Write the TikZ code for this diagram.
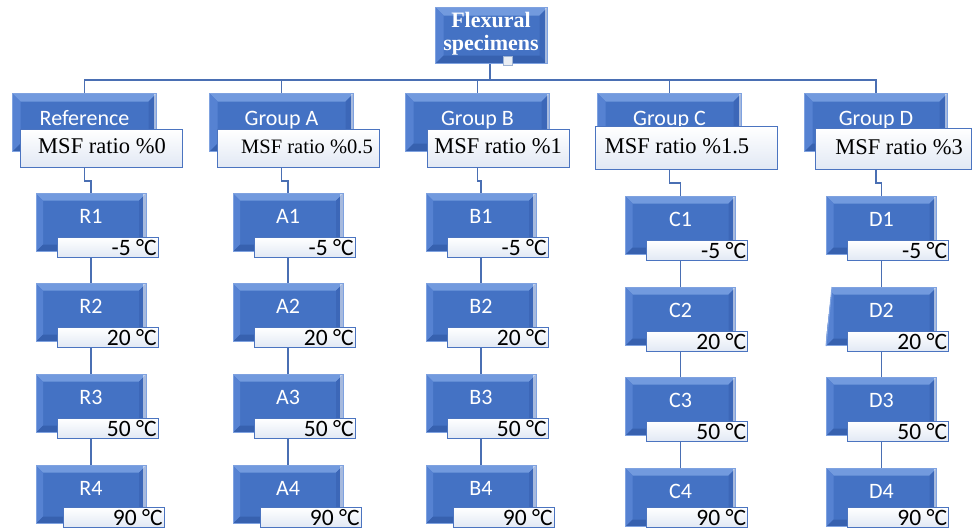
\documentclass[tikz,border=0pt]{standalone}
\usepackage{fontspec}
\setmainfont{Carlito}
\newfontfamily\serifface{Liberation Serif}
\usetikzlibrary{calc}

\definecolor{boxface}{HTML}{4472C4}
\definecolor{bevtop}{HTML}{729ADE}
\definecolor{bevleft}{HTML}{5682D2}
\definecolor{bevright}{HTML}{3C67B8}
\definecolor{bevbottom}{HTML}{3761AF}
\definecolor{boxrim}{HTML}{7FA2E0}
\definecolor{tagrim}{HTML}{4B74C0}
\definecolor{tagbottom}{HTML}{E1E8F4}
\definecolor{linkblue}{HTML}{4A6FB3}
\definecolor{gripfill}{HTML}{E9EDF3}
\definecolor{gripedge}{HTML}{9FB3D3}

\pgfdeclarelayer{links}
\pgfsetlayers{links,main}

\tikzset{
  bevelbox/.style={fill=boxface, draw=boxrim, line width=1pt, inner sep=0pt,
    path picture={
      \fill[bevtop] (path picture bounding box.north west) -- (path picture bounding box.north east)
        -- ([xshift=-#1,yshift=-#1]path picture bounding box.north east)
        -- ([xshift=#1,yshift=-#1]path picture bounding box.north west) -- cycle;
      \fill[bevleft] (path picture bounding box.north west)
        -- ([xshift=#1,yshift=-#1]path picture bounding box.north west)
        -- ([xshift=#1,yshift=#1]path picture bounding box.south west)
        -- (path picture bounding box.south west) -- cycle;
      \fill[bevright] (path picture bounding box.north east)
        -- ([xshift=-#1,yshift=-#1]path picture bounding box.north east)
        -- ([xshift=-#1,yshift=#1]path picture bounding box.south east)
        -- (path picture bounding box.south east) -- cycle;
      \fill[bevbottom] (path picture bounding box.south west)
        -- ([xshift=#1,yshift=#1]path picture bounding box.south west)
        -- ([xshift=-#1,yshift=#1]path picture bounding box.south east)
        -- (path picture bounding box.south east) -- cycle;
      \fill[white, opacity=0.55] ([xshift=-3pt]path picture bounding box.north east)
        rectangle (path picture bounding box.south east);
    }},
  bevelbox/.default=8pt,
  tagbox/.style={draw=tagrim, line width=1.3pt, top color=white, bottom color=tagbottom, inner sep=0pt},
  wtext/.style={text=white, font=\fontsize{22}{24}\selectfont, inner sep=0pt},
  ttext/.style={text=black, font=\fontsize{23.5}{25}\selectfont, inner sep=0pt},
  rtext/.style={text=black, font=\serifface\fontsize{22.5}{24}\selectfont, inner sep=0pt},
  link/.style={draw=linkblue, line width=1.8pt},
}

% one specimen box: name, title, centre x, top y, temperature, tag x offset, tag y offset
\newcommand\specimen[7]{%
  \node[bevelbox=7pt, minimum width=110pt, minimum height=58pt, anchor=north] (#1) at (#3,#4) {};
  \node[wtext, anchor=base] (#1name) at ([yshift=-30pt]#1.north) {#2};
  \node[tagbox, minimum width=101pt, minimum height=20pt, anchor=north west] (#1tag)
    at ([xshift=#6, yshift=-#7]#1.north west) {};
  \node[ttext, anchor=base east] (#1temp) at ([xshift=-2pt, yshift=3pt]#1tag.south east) {#5};
}

\begin{document}
\begin{tikzpicture}[x=1pt, y=-1pt]
\useasboundingbox (0,0) rectangle (973,530);

% root
\node[bevelbox, minimum width=112pt, minimum height=56pt, anchor=north west] (fs) at (435,7) {};
\node[wtext, font=\serifface\bfseries\fontsize{22}{23}\selectfont, align=center] (fstext) at (491,34) {Flexural\\specimens};
\node[draw=gripedge, fill=gripfill, line width=0.8pt, minimum size=9pt, inner sep=0pt] (fsgrip) at (507.5,61) {};

% groups
\node[bevelbox, minimum width=144pt, minimum height=58pt, anchor=north west] (ref) at (12,93) {};
\node[wtext, anchor=base] (refname) at ([yshift=-32pt]ref.north) {Reference};
\node[tagbox, minimum width=162pt, minimum height=38pt, anchor=north west] (reftag) at (20,129) {};
\node[rtext, anchor=base] (refratio) at (102,153) {MSF ratio \%0};

\node[bevelbox, minimum width=144pt, minimum height=58pt, anchor=north west] (ga) at (209,93) {};
\node[wtext, anchor=base] (ganame) at ([yshift=-32pt]ga.north) {Group A};
\node[tagbox, minimum width=162pt, minimum height=38pt, anchor=north west] (gatag) at (217,129) {};
\node[rtext, font=\serifface\fontsize{20.5}{22}\selectfont, anchor=base] (garatio) at (307,153) {MSF ratio \%0.5};

\node[bevelbox, minimum width=144pt, minimum height=58pt, anchor=north west] (gb) at (405,93) {};
\node[wtext, anchor=base] (gbname) at ([yshift=-32pt]gb.north) {Group B};
\node[tagbox, minimum width=142pt, minimum height=38pt, anchor=north west] (gbtag) at (427,129) {};
\node[rtext, anchor=base] (gbratio) at (498,153) {MSF ratio \%1};

\node[bevelbox, minimum width=144pt, minimum height=58pt, anchor=north west] (gc) at (597,93) {};
\node[wtext, anchor=base] (gcname) at ([yshift=-32pt]gc.north) {Group C};
\node[tagbox, minimum width=182pt, minimum height=43pt, anchor=north west] (gctag) at (595,126) {};
\node[rtext, anchor=base] (gcratio) at (677,153) {MSF ratio \%1.5};

\node[bevelbox, minimum width=143pt, minimum height=58pt, anchor=north west] (gd) at (804,93) {};
\node[wtext, anchor=base] (gdname) at ([yshift=-32pt]gd.north) {Group D};
\node[tagbox, minimum width=156pt, minimum height=41pt, anchor=north west] (gdtag) at (815,128) {};
\node[rtext, anchor=base] (gdratio) at (899,154) {MSF ratio \%3};

% specimens
\specimen{r1}{R1}{91}{193}{-5 °C}{21pt}{44pt}
\specimen{r2}{R2}{91}{283}{20 °C}{21pt}{44pt}
\specimen{r3}{R3}{91}{374}{50 °C}{21pt}{44pt}
\specimen{r4}{R4}{91}{465}{90 °C}{27pt}{42pt}

\specimen{a1}{A1}{288}{193}{-5 °C}{21pt}{44pt}
\specimen{a2}{A2}{288}{283}{20 °C}{21pt}{44pt}
\specimen{a3}{A3}{288}{374}{50 °C}{21pt}{44pt}
\specimen{a4}{A4}{288}{465}{90 °C}{27pt}{42pt}

\specimen{b1}{B1}{481}{193}{-5 °C}{21pt}{44pt}
\specimen{b2}{B2}{481}{283}{20 °C}{21pt}{44pt}
\specimen{b3}{B3}{481}{374}{50 °C}{21pt}{44pt}
\specimen{b4}{B4}{481}{465}{90 °C}{27pt}{42pt}

\specimen{c1}{C1}{680.5}{196}{-5 °C}{21pt}{44pt}
\specimen{c2}{C2}{680.5}{287}{20 °C}{21pt}{44pt}
\specimen{c3}{C3}{680.5}{377}{50 °C}{21pt}{44pt}
\specimen{c4}{C4}{680.5}{468}{90 °C}{21pt}{39pt}

\specimen{d1}{D1}{881.5}{196}{-5 °C}{21pt}{44pt}
\specimen{d2}{D2}{881.5}{287}{20 °C}{21pt}{44pt}
\specimen{d3}{D3}{881.5}{377}{50 °C}{21pt}{44pt}
\specimen{d4}{D4}{881.5}{468}{90 °C}{21pt}{39pt}

% D2 has a slanted left side
\fill[white] ([xshift=-1pt,yshift=1pt]d2.north west) -- ([xshift=6pt,yshift=1pt]d2.north west) -- ([xshift=-1pt]d2.south west) -- cycle;
\draw[boxrim, line width=1pt] ([xshift=6pt]d2.north west) -- (d2.south west);

% connectors
\begin{pgfonlayer}{links}
  \coordinate (bar) at (490,80);
  \foreach \g in {ref,ga,gb,gc,gd}
    \draw[link] (fs.south -| bar) -- (bar) -| (\g.north);
  \foreach \g/\s in {ref/r1, ga/a1, gb/b1, gc/c1, gd/d1} {
    \coordinate (\g out) at (\g.south |- \g tag.south);
    \coordinate (\g mid) at ($(\g out)!.5!(\g out |- \s.north)$);
    \draw[link] (\g out) -- (\g mid) -| (\s.north);
  }
  \foreach \c in {r,a,b,c,d} {
    \draw[link] (\c1) -- (\c2);
    \draw[link] (\c2) -- (\c3);
    \draw[link] (\c3) -- (\c4);
  }
\end{pgfonlayer}
\end{tikzpicture}
\end{document}
